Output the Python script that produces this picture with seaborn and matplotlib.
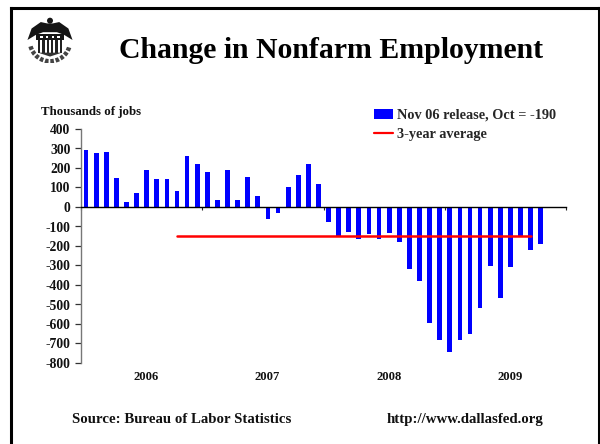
"""
Change in nonfarm employment, monthly bars with 3-year average
"""

# Import libraries
import numpy as np
import pandas as pd
import seaborn as sns
import matplotlib.pyplot as plt
from matplotlib.lines import Line2D
from matplotlib.patches import Arc, Circle, Patch, Polygon, Rectangle

# -------------------------
# Data
# -------------------------
years = ['2006', '2007', '2008', '2009']
month_names = ['Jan', 'Feb', 'Mar', 'Apr', 'May', 'Jun',
               'Jul', 'Aug', 'Sep', 'Oct', 'Nov', 'Dec']
jobs_2006 = [290, 275, 280, 150, 25, 70, 190, 145, 145, 80, 260, 220]
jobs_2007 = [178, 35, 188, 35, 152, 55, -62, -32, 100, 163, 218, 120]
jobs_2008 = [-75, -148, -126, -162, -136, -162, -131, -177, -320, -381, -595, -682]
jobs_2009 = [-743, -682, -651, -519, -304, -468, -310, -150, -223, -192]
avg_months = ['Oct 2006', 'Sep 2009']
avg_values = [-150, -150]
y_ticks = [400, 300, 200, 100, 0, -100, -200, -300, -400, -500, -600, -700, -800]

# -------------------------
# Configuration
# -------------------------
sns.set_style('white')
plt.rcParams['font.family'] = ['Liberation Serif', 'DejaVu Serif']
plt.rcParams['font.weight'] = 'bold'

W, H = 600, 444

# Build table, two months of 2009 stay empty
months = ['%s %s' % (m, y) for y in years for m in month_names]
jobs = jobs_2006 + jobs_2007 + jobs_2008 + jobs_2009
data = pd.DataFrame({'month': months[:len(jobs)], 'jobs': jobs})

# -------------------------
# Plot
# -------------------------
f = plt.figure(figsize=(W / 100, H / 100), dpi=100)
ax = f.add_axes([81 / W, 1 - 363 / H, 485 / W, 234 / H])

sns.barplot(data=data, x='month', y='jobs', order=months, color='#0000ff',
            saturation=1, width=0.47, linewidth=0, ax=ax)
avg_pos = [months.index(m) for m in avg_months]
sns.lineplot(x=avg_pos, y=avg_values, color='#ff0000', linewidth=1.8, ax=ax)

ax.set_xlim(-0.5, 47.5)
ax.set_ylim(-800, 400)
ax.set(xlabel='', ylabel='')

# Axes
sns.despine(ax=ax)
ax.spines['bottom'].set_position(('data', 0))
ax.spines['bottom'].set_linewidth(1.0)
ax.spines['bottom'].set_color('black')
ax.spines['left'].set_linewidth(1.0)
ax.spines['left'].set_color('#777777')

ax.set_yticks(y_ticks)
ax.set_yticklabels([str(v) for v in y_ticks], fontsize=9.8, color='#111111')
ax.tick_params(axis='y', left=True, length=4, width=0.9, color='#333333', pad=3.5)

# Year boundary ticks, labels sit under the plot
ax.set_xticks(np.arange(-0.5, 48, 12))
ax.set_xticklabels([])
ax.tick_params(axis='x', bottom=True, direction='out', length=2.5, width=0.8,
               color='#222222')
for i, year in enumerate(years):
    ax.annotate(year, xy=(months.index('Jun ' + year) + 0.95, -800),
                xycoords='data', xytext=(0, -5.5), textcoords='offset points',
                ha='center', va='top', fontsize=9.1, color='#111111')

# Text
f.text(331 / W, 1 - 50.5 / H, 'Change in Nonfarm Employment', ha='center',
       va='center', fontsize=21.4, color='black')
f.text(41 / W, 1 - 112.5 / H, 'Thousands of jobs', ha='left', va='center',
       fontsize=9.3, color='#111111')
f.text(182 / W, 1 - 419 / H, 'Source: Bureau of Labor Statistics', ha='center',
       va='center', fontsize=10.7, color='#111111')
f.text(465 / W, 1 - 419 / H, 'http://www.dallasfed.org', ha='center',
       va='center', fontsize=10.7, color='#111111')

# Legend
handles = [Patch(facecolor='#0000ff', edgecolor='none'),
           Line2D([0], [0], color='#ff0000', linewidth=1.6)]
labels = ['Nov 06 release, Oct = -190', '3-year average']
f.legend(handles, labels, loc='upper left', frameon=False, fontsize=10.3,
         bbox_to_anchor=(374 / W, 1 - 109 / H), borderaxespad=0, borderpad=0,
         handlelength=1.33, handleheight=0.65, handletextpad=0.28, labelspacing=0.42)

# Slide frame, open at the bottom
frame = [([11, 11], [444, 8]), ([11, 599], [8, 8]), ([599, 599], [8, 444])]
for xs, ys in frame:
    f.add_artist(Line2D([x / W for x in xs], [1 - y / H for y in ys], color='black',
                        linewidth=2.2, solid_capstyle='projecting'))

# Seal, rough drawing
seal = f.add_axes([27 / W, 1 - 63 / H, 46 / W, 46 / H])
seal.set_xlim(-1, 1)
seal.set_ylim(-1, 1)
seal.set_aspect('equal')
seal.axis('off')
seal.add_patch(Arc((0, -0.05), 1.75, 1.75, theta1=195, theta2=345, edgecolor='#444444',
                   linewidth=3.2, linestyle=(0, (0.8, 0.4))))
seal.add_patch(Polygon([(-0.98, 0.0), (-0.8, 0.5), (-0.4, 0.78), (-0.12, 0.72), (0.12, 0.72),
                        (0.4, 0.78), (0.8, 0.5), (0.98, 0.0), (0.62, 0.22), (0.3, 0.34),
                        (-0.3, 0.34), (-0.62, 0.22)],
                       facecolor='#151515', edgecolor='none'))
seal.add_patch(Circle((0, 0.84), 0.13, facecolor='#151515', edgecolor='none'))
seal.add_patch(Rectangle((-0.62, -0.02), 1.24, 0.3, facecolor='#151515', edgecolor='none'))
for sx in np.linspace(-0.44, 0.32, 4):
    seal.add_patch(Rectangle((sx, 0.08), 0.12, 0.1, facecolor='white', edgecolor='none'))
for sx in np.linspace(-0.52, 0.42, 6):
    seal.add_patch(Rectangle((sx, -0.55), 0.1, 0.55, facecolor='#222222', edgecolor='none'))
seal.add_patch(Polygon([(-0.52, -0.55), (0, -0.72), (0.52, -0.55)],
                       facecolor='#333333', edgecolor='none'))

f.savefig('out.png', dpi=100)
